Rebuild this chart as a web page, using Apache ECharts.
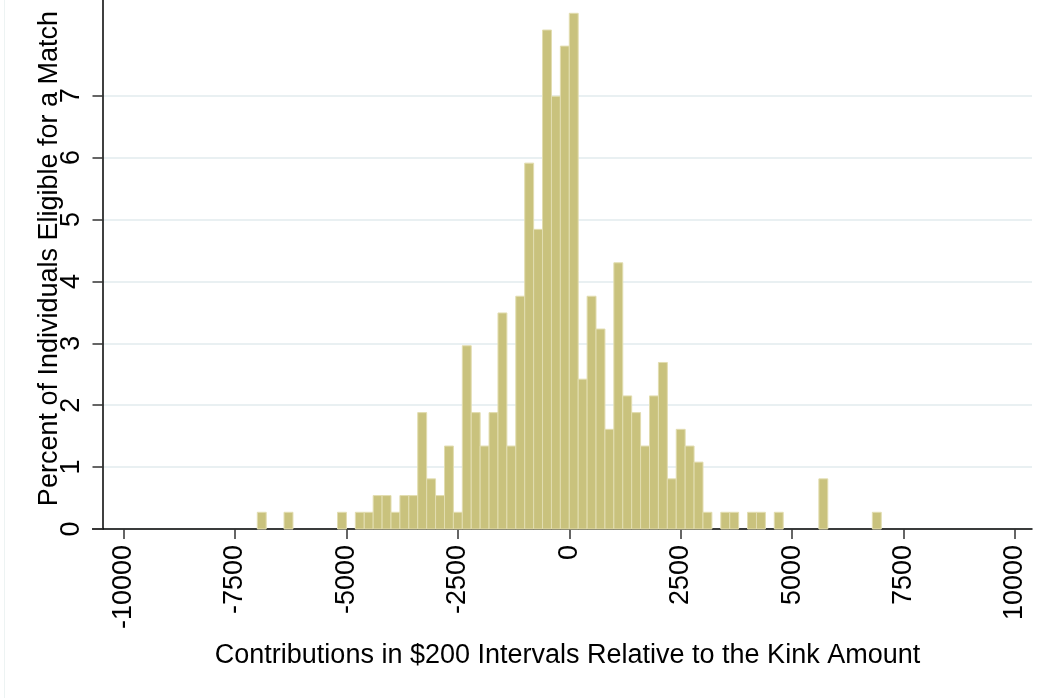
<!DOCTYPE html>
<html>
<head>
<meta charset="utf-8">
<script src="https://cdn.jsdelivr.net/npm/echarts@6/dist/echarts.min.js"></script>
<style>
html,body{margin:0;padding:0;background:#fff;}
#chart{width:1056px;height:698px;}
</style>
</head>
<body>
<div id="chart"></div>
<script>
// Histogram bins ($200 wide), start of each non-empty bin
const binStarts = [-7000,-6400,-5200,-4800,-4600,-4400,-4200,-4000,-3800,-3600,-3400,-3200,-3000,-2800,-2600,-2400,-2200,-2000,-1800,-1600,-1400,-1200,-1000,-800,-600,-400,-200,0,200,400,600,800,1000,1200,1400,1600,1800,2000,2200,2400,2600,2800,3000,3400,3600,4000,4200,4600,5600,6800];
// Percent of individuals in each bin
const percents = [0.27,0.27,0.27,0.27,0.27,0.54,0.54,0.27,0.54,0.54,1.88,0.81,0.54,1.34,0.27,2.96,1.88,1.34,1.88,3.49,1.34,3.76,5.91,4.84,8.06,6.99,7.80,8.33,2.42,3.76,3.23,1.61,4.30,2.15,1.88,1.34,2.15,2.69,0.81,1.61,1.34,1.08,0.27,0.27,0.27,0.27,0.27,0.27,0.81,0.27];
const binWidth = 200;
const xTicks = [-10000,-7500,-5000,-2500,0,2500,5000,7500,10000];
const yTicks = [0,1,2,3,4,5,6,7];
const xTitle = 'Contributions in $200 Intervals Relative to the Kink Amount';
const yTitle = 'Percent of Individuals Eligible for a Match';

const data = binStarts.map((s, i) => [s, s + binWidth, percents[i]]);
const FONT = '"Liberation Sans", Arial, Helvetica, sans-serif';

const chart = echarts.init(document.getElementById('chart'), null, {renderer: 'canvas'});
chart.setOption({
  backgroundColor: '#ffffff',
  animation: false,
  grid: {left: 103, right: 24, top: 0, bottom: 169, containLabel: false},
  xAxis: {
    type: 'value',
    min: -10462,
    max: 10382,
    axisLine: {show: true, onZero: false, lineStyle: {color: '#000', width: 1.5}},
    axisTick: {show: true, customValues: xTicks, length: 10, lineStyle: {color: '#333', width: 1.5}},
    axisLabel: {
      customValues: xTicks, rotate: 90, margin: 16,
      formatter: function (v) { return String(v); },
      color: '#000', fontSize: 27, fontFamily: FONT
    },
    splitLine: {show: false},
    name: xTitle,
    nameLocation: 'middle',
    nameGap: 113,
    nameMoveOverlap: false,
    nameTextStyle: {color: '#000', fontSize: 27, fontFamily: FONT}
  },
  yAxis: {
    type: 'value',
    min: 0,
    max: 8.545,
    axisLine: {show: true, onZero: false, lineStyle: {color: '#000', width: 1.5}},
    axisTick: {show: true, customValues: yTicks, length: 10.5, lineStyle: {color: '#333', width: 1.5}},
    axisLabel: {
      customValues: yTicks, rotate: 90, margin: 18,
      formatter: function (v) { return String(v); },
      color: '#000', fontSize: 27, fontFamily: FONT
    },
    splitLine: {show: true, lineStyle: {color: '#e9f0f2', width: 2}},
    name: yTitle,
    nameLocation: 'middle',
    nameGap: 40,
    nameMoveOverlap: false,
    nameTextStyle: {color: '#000', fontSize: 27, fontFamily: FONT, padding: [0, 0, 0, 12]}
  },
  series: [{
    type: 'custom',
    data: data,
    encode: {x: [0, 1], y: 2},
    renderItem: function (params, api) {
      const p0 = api.coord([api.value(0), 0]);
      const p1 = api.coord([api.value(1), api.value(2)]);
      return {
        type: 'rect',
        shape: {x: p0[0], y: p1[1], width: p1[0] - p0[0], height: p0[1] - p1[1]},
        style: {fill: '#c9c27d', stroke: '#e2ddb0', lineWidth: 1}
      };
    }
  }],
  graphic: [
    {type: 'line', shape: {x1: 92, y1: 529, x2: 103, y2: 529}, style: {stroke: '#000', lineWidth: 1.5}, silent: true},
    {type: 'line', shape: {x1: 4.5, y1: 0, x2: 4.5, y2: 698}, style: {stroke: '#edf3f3', lineWidth: 1}, silent: true}
  ]
});
</script>
</body>
</html>
